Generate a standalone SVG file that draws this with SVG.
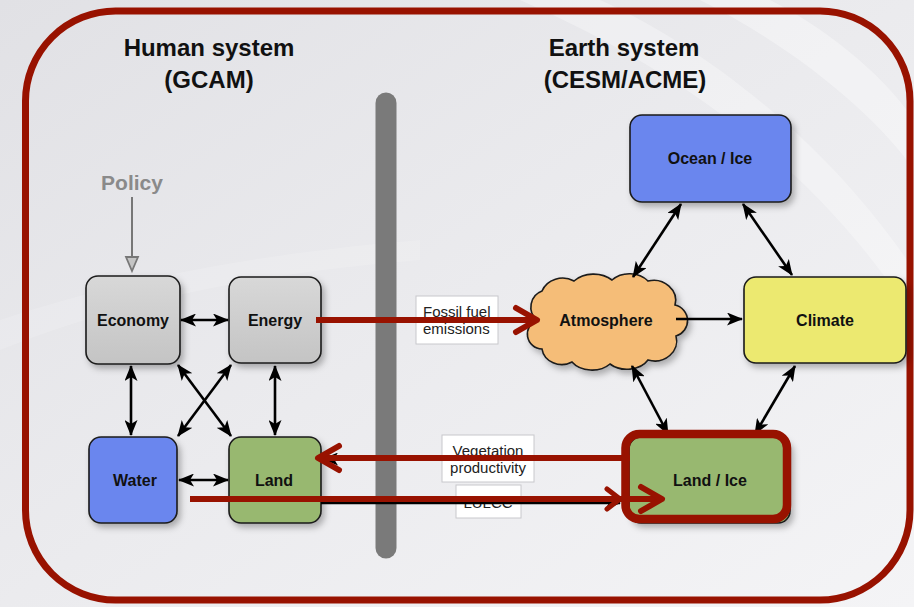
<svg xmlns="http://www.w3.org/2000/svg" width="914" height="607" viewBox="0 0 914 607">
  <defs>
    <linearGradient id="bg" x1="0" y1="0" x2="1" y2="1">
      <stop offset="0" stop-color="#e1e1e5"/>
      <stop offset="0.5" stop-color="#ebebee"/>
      <stop offset="1" stop-color="#f4f4f6"/>
    </linearGradient>
    <linearGradient id="grayFill" x1="0" y1="0" x2="0" y2="1">
      <stop offset="0" stop-color="#d8d8d8"/>
      <stop offset="1" stop-color="#c4c4c4"/>
    </linearGradient>
    <filter id="shadow" x="-20%" y="-20%" width="150%" height="150%">
      <feDropShadow dx="3" dy="4" stdDeviation="3" flood-color="#000" flood-opacity="0.28"/>
    </filter>
    <marker id="ah" viewBox="0 0 16 13" refX="15" refY="6.5" markerWidth="16" markerHeight="13" markerUnits="userSpaceOnUse" orient="auto-start-reverse">
      <path d="M0,0 L16,6.5 L0,13 L4,6.5 Z" fill="#000"/>
    </marker>
    <marker id="chev" viewBox="0 0 28 30" refX="25" refY="15" markerWidth="28" markerHeight="30" markerUnits="userSpaceOnUse" orient="auto" overflow="visible">
      <path d="M4,3 L25,15 L4,27" fill="none" stroke="#981200" stroke-width="6" stroke-linecap="round" stroke-linejoin="round"/>
    </marker>
    <style>
      .title { font-family: "Liberation Sans", Arial, sans-serif; font-weight: bold; font-size: 24px; fill: #111; text-anchor: middle; }
      .node { stroke: #1a1a1a; stroke-width: 1.6; filter: url(#shadow); }
      .lbl { font-family: "Liberation Sans", Arial, sans-serif; font-weight: bold; font-size: 16px; fill: #111; text-anchor: middle; }
      .tag { fill: #ffffff; stroke: #c8c8cc; stroke-width: 1; }
      .tagtxt { font-family: "Liberation Sans", Arial, sans-serif; font-size: 15px; fill: #222; }
      .link { stroke: #000; stroke-width: 2.6; fill: none; marker-end: url(#ah); }
      .both { marker-start: url(#ah); }
      .red { stroke: #981200; stroke-width: 6; fill: none; marker-end: url(#chev); }
    </style>
  </defs>

  <!-- backdrop with soft diagonal light bands -->
  <rect width="914" height="607" fill="url(#bg)"/>
  <g fill="#ffffff">
    <path d="M520,0 C680,70 820,170 914,320 L914,270 C820,130 690,40 600,0 Z" opacity="0.3"/>
    <path d="M700,0 C800,50 880,120 914,170 L914,120 C880,70 820,25 770,0 Z" opacity="0.35"/>
    <path d="M0,320 C150,270 300,250 420,240 L420,260 C300,270 150,290 0,350 Z" opacity="0.15"/>
  </g>

  <!-- frame -->
  <rect x="25.5" y="11" width="884.5" height="589" rx="90" fill="none" stroke="#981200" stroke-width="7"/>

  <!-- headings -->
  <text class="title" x="209" y="56">Human system</text>
  <text class="title" x="209" y="88">(GCAM)</text>
  <text class="title" x="624" y="56">Earth system</text>
  <text class="title" x="625" y="88">(CESM/ACME)</text>

  <!-- divider -->
  <line x1="386" y1="103" x2="386" y2="548" stroke="#7a7a7a" stroke-width="21" stroke-linecap="round"/>

  <!-- policy input -->
  <g id="policy">
    <text x="132" y="190" font-family="Liberation Sans, Arial, sans-serif" font-weight="bold" font-size="21" fill="#8a8a8a" text-anchor="middle">Policy</text>
    <line x1="132" y1="197" x2="132" y2="260" stroke="#777" stroke-width="2"/>
    <path d="M126,257 L138,257 L132,271 Z" fill="#c4c4c4" stroke="#777" stroke-width="1.8"/>
  </g>

  <!-- human system nodes -->
  <g id="economy">
    <rect class="node" x="86" y="276" width="94" height="88" rx="12" fill="url(#grayFill)"/>
    <text class="lbl" x="133" y="326">Economy</text>
  </g>
  <g id="energy">
    <rect class="node" x="229" y="277" width="92" height="86" rx="12" fill="url(#grayFill)"/>
    <text class="lbl" x="275" y="326">Energy</text>
  </g>
  <g id="water">
    <rect class="node" x="89" y="437" width="88" height="86" rx="12" fill="#6b86ee"/>
    <text class="lbl" x="135" y="486">Water</text>
  </g>
  <g id="land">
    <rect class="node" x="229" y="437" width="92" height="86" rx="12" fill="#98b870"/>
    <text class="lbl" x="274" y="486">Land</text>
  </g>

  <!-- earth system nodes -->
  <g id="ocean-ice">
    <rect class="node" x="630" y="115" width="161" height="87" rx="12" fill="#6b86ee"/>
    <text class="lbl" x="710" y="164">Ocean / Ice</text>
  </g>
  <g id="climate">
    <rect class="node" x="744" y="277" width="162" height="86" rx="12" fill="#ece970"/>
    <text class="lbl" x="825" y="326">Climate</text>
  </g>
  <g id="atmosphere">
    <path class="node" fill="#f5bd78" d="M537,320 A17,17 0 0 1 542,291 A22,20 0 0 1 574,281 A26,20 0 0 1 612,280 A24,20 0 0 1 648,281 A22,20 0 0 1 675,305 A16,16 0 0 1 676,336 A22,20 0 0 1 648,360 A24,18 0 0 1 610,364 A24,18 0 0 1 572,362 A20,18 0 0 1 542,349 A15,15 0 0 1 537,320 Z"/>
    <text class="lbl" x="606" y="326">Atmosphere</text>
  </g>
  <g id="land-ice">
    <rect class="node" x="629" y="437" width="161" height="86" rx="12" fill="#98b870"/>
    <text class="lbl" x="710" y="486">Land / Ice</text>
  </g>

  <!-- flow labels -->
  <g id="labels">
    <rect class="tag" x="416" y="296" width="82" height="48"/>
    <text class="tagtxt" x="423" y="317" font-size="14.5">Fossil fuel</text>
    <text class="tagtxt" x="423" y="334" font-size="14.5">emissions</text>
    <rect class="tag" x="442" y="435" width="92" height="47"/>
    <text class="tagtxt" x="488" y="456" text-anchor="middle">Vegetation</text>
    <text class="tagtxt" x="488" y="473" text-anchor="middle">productivity</text>
    <rect class="tag" x="456" y="485" width="65" height="33"/>
    <text class="tagtxt" x="488" y="508" text-anchor="middle">LULCC</text>
  </g>

  <!-- connectors -->
  <g id="connectors">
    <line class="link both" x1="181" y1="320" x2="228" y2="320"/>
    <line class="link both" x1="131" y1="366" x2="131" y2="435"/>
    <line class="link both" x1="275" y1="366" x2="275" y2="435"/>
    <line class="link both" x1="178" y1="365" x2="231" y2="436"/>
    <line class="link both" x1="231" y1="365" x2="178" y2="436"/>
    <line class="link both" x1="179" y1="480" x2="228" y2="480"/>
    <line class="link both" x1="681" y1="204" x2="633" y2="277"/>
    <line class="link both" x1="743" y1="204" x2="792" y2="275"/>
    <line class="link" x1="676" y1="319" x2="742" y2="319"/>
    <line class="link both" x1="632" y1="366" x2="668" y2="434"/>
    <line class="link both" x1="795" y1="366" x2="755" y2="434"/>
    <!-- original black couplings beneath the highlighted ones -->
    <line class="link" x1="630" y1="459" x2="323" y2="459"/>
    <line class="link" x1="321" y1="503" x2="620" y2="503"/>
    <!-- highlighted couplings -->
    <line class="red" x1="316" y1="320" x2="537" y2="320"/>
    <line class="red" x1="630" y1="458" x2="318" y2="458"/>
    <line class="red" x1="190" y1="499" x2="662" y2="499"/>
    <path d="M607,489 L620,499 L607,509" fill="none" stroke="#981200" stroke-width="5" stroke-linecap="round" stroke-linejoin="round"/>
  </g>

  <!-- highlight ring -->
  <rect x="625.5" y="434" width="161.5" height="85" rx="14" fill="none" stroke="#981200" stroke-width="8.5"/>
</svg>
